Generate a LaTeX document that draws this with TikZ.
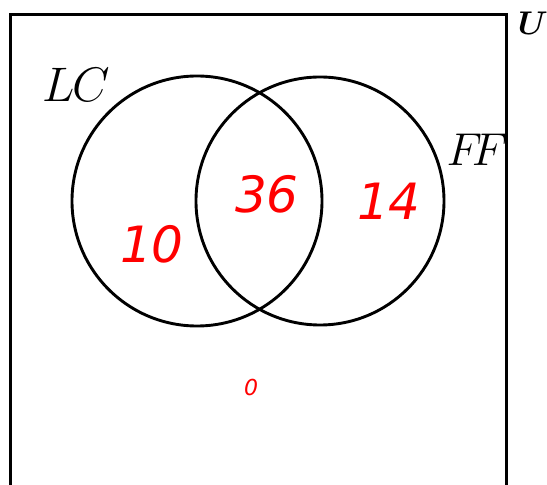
\documentclass[tikz,border=0pt]{standalone}
\usepackage{graphicx}
\usepackage{bm}
\usepackage{fontspec}
\newfontfamily\numfont{DejaVu Sans}
\begin{document}
\begin{tikzpicture}[x=1pt,y=1pt,
  setline/.style={line width=3pt,black},
  circline/.style={line width=2.9pt,black},
  numlbl/.style={text=red,inner sep=0pt,font=\numfont\itshape\fontsize{50}{60}\selectfont},
  setlbl/.style={inner sep=0pt,font=\fontsize{24.88}{30}\selectfont}]
\useasboundingbox (0,0) rectangle (547,485);
\begin{scope}
\clip (0,0) rectangle (547,485);
\draw[setline] (10,-10) -- (10,470) -- (506,470) -- (506,-10);
\end{scope}
\coordinate (cl) at (197,284);
\coordinate (cr) at (320,284);
\draw[circline] (cl) circle[radius=125];
\draw[circline] (cr) circle[radius=124];
\node[setlbl] (lc) at (76,400) {\scalebox{1.95}{$L\mkern-1mu C$}};
\node[setlbl] (ff) at (477,335) {\scalebox{1.85}{$F\mkern-4mu F$}};
\node[inner sep=0pt,font=\fontsize{17.28}{20}\selectfont] (u) at (533,462) {\scalebox{1.9}{$\bm{U}$}};
\node[numlbl] (n10) at (152,241) {10};
\node[numlbl] (n36) at (267,291) {36};
\node[numlbl] (n14) at (389,284) {14};
\node[numlbl,font=\numfont\itshape\fontsize{22}{26}\selectfont] (n0) at (251,98) {0};
\end{tikzpicture}
\end{document}
